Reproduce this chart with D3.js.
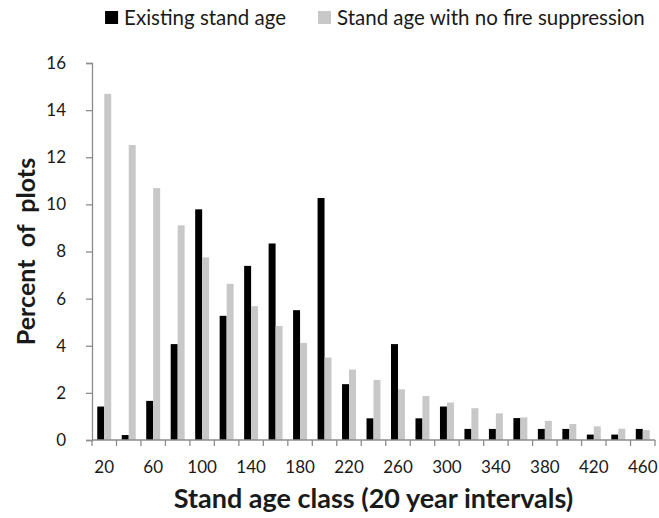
<!DOCTYPE html>
<html>
<head>
<meta charset="utf-8">
<script src="https://cdn.jsdelivr.net/npm/d3@7"></script>
<style>
  body { margin: 0; background: #fff; }
  svg { display: block; font-family: Lato, "Liberation Sans", sans-serif; }
</style>
</head>
<body>
<div id="chart"></div>
<script>
// data ----------------------------------------------------------------------------------------
const ageClasses = [20, 40, 60, 80, 100, 120, 140, 160, 180, 200, 220, 240, 260, 280, 300, 320, 340, 360, 380, 400, 420, 440, 460];
const existingAge = [1.42, 0.21, 1.66, 4.07, 9.79, 5.27, 7.39, 8.34, 5.51, 10.27, 2.37, 0.92, 4.07, 0.92, 1.42, 0.47, 0.47, 0.93, 0.47, 0.47, 0.23, 0.23, 0.47];
const noSuppressionAge = [14.69, 12.52, 10.69, 9.11, 7.75, 6.63, 5.68, 4.84, 4.12, 3.50, 2.99, 2.55, 2.15, 1.87, 1.59, 1.35, 1.13, 0.96, 0.81, 0.68, 0.58, 0.48, 0.42];
const seriesNames = ['Existing stand age', 'Stand age with no fire suppression'];
const seriesColors = ['#000000', '#c8c8c8'];
const yTicks = [0, 2, 4, 6, 8, 10, 12, 14, 16];
const xTickLabels = [20, 60, 100, 140, 180, 220, 260, 300, 340, 380, 420, 460];

// setup --------------------------------------------------------------------------------------------
const width = 659;
const height = 518;
const margin = { top: 63, right: 4, bottom: 78, left: 92 };
const axisColor = '#8c8c8c';
const textColor = '#1a1a1a';

const svg = d3.select('#chart')
    .append('svg')
    .attr('width', width)
    .attr('height', height);

const rows = ageClasses.map((c, i) => ({ age: c, values: [existingAge[i], noSuppressionAge[i]] }));

// scales
const x0 = d3.scaleBand()
    .domain(ageClasses)
    .range([margin.left, width - margin.right])
    .paddingInner(0.43)
    .paddingOuter(0.215);

const x1 = d3.scaleBand()
    .domain([0, 1])
    .range([0, x0.bandwidth()]);

const y = d3.scaleLinear()
    .domain([0, 16])
    .range([height - margin.bottom, margin.top]);

// bars
svg.append('g')
    .selectAll('g')
    .data(rows)
    .join('g')
    .attr('transform', d => `translate(${x0(d.age)},0)`)
    .selectAll('rect')
    .data(d => d.values)
    .join('rect')
    .attr('x', (d, i) => x1(i))
    .attr('width', x1.bandwidth())
    .attr('y', d => y(d))
    .attr('height', d => y(0) - y(d))
    .attr('fill', (d, i) => seriesColors[i]);

// y axis
const yAxis = svg.append('g')
    .attr('transform', `translate(${margin.left},0)`)
    .call(d3.axisLeft(y).tickValues(yTicks).tickSize(6).tickPadding(20));
yAxis.select('.domain').attr('stroke', axisColor).attr('stroke-width', 1.3);
yAxis.selectAll('.tick line').attr('stroke', axisColor).attr('stroke-width', 1.3);
yAxis.selectAll('.tick text')
    .attr('font-size', '17px')
    .attr('fill', textColor)
    .style('font-family', 'Lato, sans-serif');

// x axis: ticks sit on category boundaries, labels on every other category
const step = x0.step();
const boundaries = ageClasses.map(c => x0(c) - step * x0.paddingInner() / 2).concat([width - margin.right]);
const xAxis = svg.append('g');
xAxis.append('line')
    .attr('x1', margin.left)
    .attr('x2', width - margin.right)
    .attr('y1', y(0))
    .attr('y2', y(0))
    .attr('stroke', axisColor)
    .attr('stroke-width', 1.3);
xAxis.selectAll('line.tick')
    .data(boundaries)
    .join('line')
    .attr('class', 'tick')
    .attr('x1', d => d)
    .attr('x2', d => d)
    .attr('y1', y(0))
    .attr('y2', y(0) + 6)
    .attr('stroke', axisColor)
    .attr('stroke-width', 1.3);
xAxis.selectAll('text')
    .data(xTickLabels)
    .join('text')
    .attr('x', d => x0(d) + x0.bandwidth() / 2)
    .attr('y', y(0) + 33)
    .attr('text-anchor', 'middle')
    .attr('font-size', '17px')
    .attr('fill', textColor)
    .text(d => d);

// axis titles
svg.append('text')
    .attr('x', (margin.left + width - margin.right) / 2)
    .attr('y', height - 10)
    .attr('text-anchor', 'middle')
    .attr('font-size', '27px')
    .attr('font-weight', 'bold')
    .attr('fill', textColor)
    .text('Stand age class (20 year intervals)');

svg.append('text')
    .attr('transform', `translate(35,${(margin.top + height - margin.bottom) / 2}) rotate(-90)`)
    .attr('text-anchor', 'middle')
    .attr('font-size', '25px')
    .attr('font-weight', 'bold')
    .attr('fill', textColor)
    .style('white-space', 'pre')
    .text('Percent  of  plots');

// legend
const legendY = 11;
const legendSize = 13;
const legendFont = '20.5px';

const legendGrey = svg.append('g').attr('transform', 'translate(318,0)');
legendGrey.append('rect')
    .attr('y', legendY)
    .attr('width', legendSize)
    .attr('height', legendSize)
    .attr('fill', seriesColors[1]);
legendGrey.append('text')
    .attr('x', 19)
    .attr('y', legendY + legendSize + 1)
    .attr('font-size', legendFont)
    .attr('fill', textColor)
    .text(seriesNames[1]);

const legendBlack = svg.append('g');
const blackText = legendBlack.append('text')
    .attr('y', legendY + legendSize + 1)
    .attr('font-size', legendFont)
    .attr('fill', textColor)
    .attr('text-anchor', 'end')
    .attr('x', 286)
    .text(seriesNames[0]);
const blackStart = 286 - blackText.node().getComputedTextLength();
legendBlack.append('rect')
    .attr('x', blackStart - 19)
    .attr('y', legendY)
    .attr('width', legendSize)
    .attr('height', legendSize)
    .attr('fill', seriesColors[0]);
</script>
</body>
</html>
